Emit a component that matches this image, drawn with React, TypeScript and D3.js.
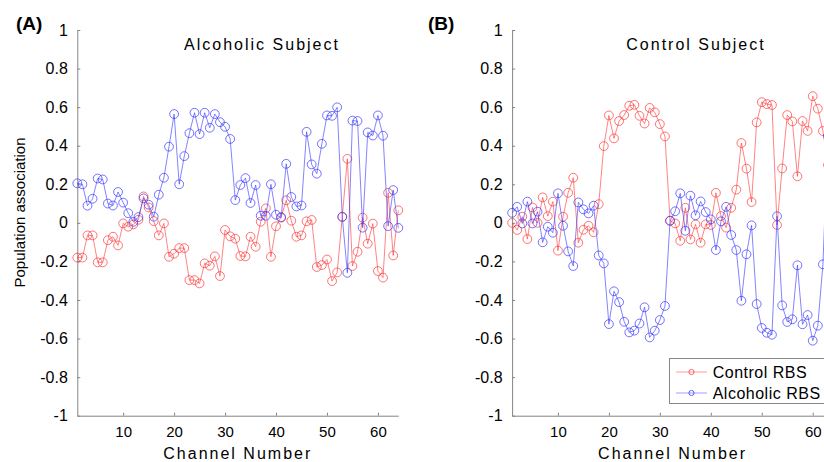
import React, { useEffect, useRef } from 'react';
import * as d3 from 'd3';

// population association per EEG channel (1..64)
const alcoholicControlRBS = [
  -0.18, -0.18, -0.065, -0.065, -0.205, -0.205, -0.09, -0.072, -0.117, -0.003,
  -0.02, -0.008, 0.016, 0.137, 0.08, 0.009, -0.065, -0.003, -0.176, -0.16,
  -0.131, -0.131, -0.297, -0.297, -0.314, -0.21, -0.222, -0.174, -0.276, -0.037,
  -0.07, -0.082, -0.172, -0.174, -0.072, -0.124, 0.006, 0.075, -0.176, -0.018,
  0.03, 0.117, 0.011, -0.072, -0.065, 0.008, 0.015, -0.229, -0.219, -0.19,
  -0.302, -0.257, 0.03, 0.332, -0.224, -0.15, 0.027, -0.108, -0.004, -0.25,
  -0.284, 0.156, -0.169, 0.065,
];
const alcoholicAlcoholicRBS = [
  0.205, 0.2, 0.089, 0.125, 0.23, 0.225, 0.1, 0.09, 0.16, 0.105,
  0.05, 0.005, 0.03, 0.127, 0.094, 0.032, 0.146, 0.234, 0.395, 0.564,
  0.2, 0.346, 0.465, 0.571, 0.46, 0.571, 0.493, 0.564, 0.522, 0.498,
  0.435, 0.118, 0.196, 0.232, 0.103, 0.196, 0.037, 0.037, 0.2, 0.042,
  0.027, 0.306, 0.134, 0.085, 0.09, 0.472, 0.303, 0.255, 0.41, 0.557,
  0.555, 0.599, 0.032, -0.259, 0.53, 0.528, -0.025, 0.469, 0.453, 0.557,
  0.452, -0.017, 0.17, -0.026,
];
const controlControlRBS = [
  0.0, -0.037, 0.032, -0.084, 0.08, 0.0, 0.132, 0.035, 0.11, -0.144,
  0.032, 0.156, 0.234, -0.103, -0.036, -0.015, -0.049, 0.097, 0.398, 0.557,
  0.438, 0.528, 0.559, 0.607, 0.612, 0.555, 0.515, 0.596, 0.573, 0.512,
  0.448, 0.011, -0.003, -0.093, 0.078, -0.086, -0.008, -0.103, -0.008, -0.011,
  0.156, 0.035, -0.025, 0.078, 0.172, 0.414, 0.281, 0.108, 0.521, 0.626,
  0.616, 0.611, -0.011, 0.282, 0.559, 0.526, 0.241, 0.528, 0.477, 0.657,
  0.592, 0.476, 0.3, 0.45,
];
const controlAlcoholicRBS = [
  0.052, 0.083, -0.003, 0.11, -0.003, 0.058, -0.101, -0.02, -0.051, 0.153,
  -0.015, -0.148, -0.224, 0.106, 0.07, 0.049, 0.089, -0.169, -0.21, -0.525,
  -0.355, -0.411, -0.513, -0.568, -0.559, -0.522, -0.438, -0.594, -0.559, -0.504,
  -0.431, 0.011, 0.06, 0.153, -0.041, 0.141, 0.039, 0.111, 0.056, 0.018,
  -0.141, 0.008, 0.083, -0.063, -0.141, -0.404, -0.163, -0.013, -0.421, -0.545,
  -0.57, -0.58, 0.034, -0.428, -0.514, -0.5, -0.22, -0.526, -0.478, -0.611,
  -0.533, -0.215, 0.45, 0.1,
];

const xTicks = [10, 20, 30, 40, 50, 60];
const yTicks = [-1, -0.8, -0.6, -0.4, -0.2, 0, 0.2, 0.4, 0.6, 0.8, 1];
const legendLabels = ['Control RBS', 'Alcoholic RBS'];

const RED = '#ff3030';
const BLUE = '#3030ff';
const FONT = '"Liberation Sans", Arial, Helvetica, sans-serif';

export default function App() {
  const ref = useRef<SVGSVGElement>(null);

  useEffect(() => {
    const svg = d3.select(ref.current);
    svg.selectAll('*').remove();

    const y = d3.scaleLinear().domain([-1, 1]).range([415.7, 30]);

    const panels = [
      { tag: '(A)', tagX: 16, title: 'Alcoholic Subject', titleX: 262, x0: 77.3, red: alcoholicControlRBS, blue: alcoholicAlcoholicRBS, ylabel: true },
      { tag: '(B)', tagX: 428, title: 'Control Subject', titleX: 696, x0: 512.1, red: controlControlRBS, blue: controlAlcoholicRBS, ylabel: false },
    ];

    panels.forEach(p => {
      const x = d3.scaleLinear().domain([1, 64]).range([p.x0, p.x0 + 321]);
      const g = svg.append('g');

      // axes
      const xa = g.append('g')
        .attr('transform', `translate(0,${y(-1)})`)
        .call(d3.axisBottom(x).tickValues(xTicks).tickSizeInner(-3).tickSizeOuter(0).tickPadding(11).tickFormat(d => String(d)));
      const ya = g.append('g')
        .attr('transform', `translate(${p.x0},0)`)
        .call(d3.axisLeft(y).tickValues(yTicks).tickSizeInner(-3).tickSizeOuter(0).tickPadding(9.5)
          .tickFormat(d => String(+(+d).toFixed(1))));
      [xa, ya].forEach(a => {
        a.selectAll('path, line').attr('stroke', '#858585');
        a.selectAll('text').attr('fill', '#000').style('font-family', FONT);
      });
      xa.selectAll('text').style('font-size', '15px');
      ya.selectAll('text').style('font-size', '16px');

      // series
      const line = d3.line<number>().x((_, i) => x(i + 1)).y(d => y(d));
      [[p.red, RED], [p.blue, BLUE]].forEach(([vals, col]) => {
        const s = g.append('g').attr('fill', 'none').attr('stroke', col as string).attr('stroke-opacity', 0.75);
        s.append('path').datum(vals as number[]).attr('d', line).attr('stroke-width', 0.8);
        s.selectAll('circle').data(vals as number[]).join('circle')
          .attr('cx', (_, i) => x(i + 1)).attr('cy', d => y(d)).attr('r', 4.4).attr('stroke-width', 0.9);
      });

      // labels
      g.append('text').attr('x', p.tagX).attr('y', 30).text(p.tag)
        .style('font-family', FONT).style('font-size', '19px').style('font-weight', 'bold');
      g.append('text').attr('x', p.titleX).attr('y', 50).attr('text-anchor', 'middle').text(p.title)
        .style('font-family', FONT).style('font-size', '16px').style('letter-spacing', '2px');
      g.append('text').attr('x', p.x0 + 160.5).attr('y', 459).attr('text-anchor', 'middle').text('Channel Number')
        .style('font-family', FONT).style('font-size', '16px').style('letter-spacing', '2px');
      if (p.ylabel) {
        g.append('text').attr('transform', 'translate(24.5,212.5) rotate(-90)').attr('text-anchor', 'middle')
          .text('Population association').style('font-family', FONT).style('font-size', '15px');
      }
    });

    // legend
    const lg = svg.append('g');
    lg.append('rect').attr('x', 669.5).attr('y', 358.5).attr('width', 160).attr('height', 45)
      .attr('fill', '#fff').attr('stroke', '#888');
    legendLabels.forEach((lab, i) => {
      const cy = 372 + i * 21;
      const col = i === 0 ? RED : BLUE;
      lg.append('line').attr('x1', 676).attr('x2', 707).attr('y1', cy).attr('y2', cy)
        .attr('stroke', col).attr('stroke-opacity', 0.6).attr('stroke-width', 0.8);
      lg.append('circle').attr('cx', 691.5).attr('cy', cy).attr('r', 2.6)
        .attr('fill', 'none').attr('stroke', col).attr('stroke-opacity', 0.75);
      lg.append('text').attr('x', 712.7).attr('y', cy + 5.6).text(lab)
        .style('font-family', FONT).style('font-size', '16px').style('letter-spacing', '0.5px');
    });
  }, []);

  return (
    <svg ref={ref} width={824} height={462}
      style={{ position: 'absolute', left: 0, top: 0, display: 'block', background: '#fff' }} />
  );
}
